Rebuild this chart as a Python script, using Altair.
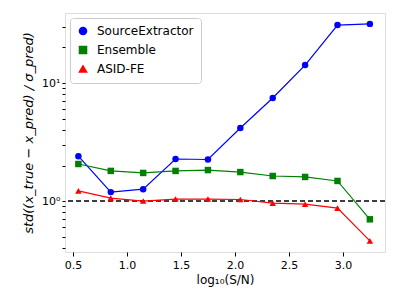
import altair as alt
import pandas as pd

x_vals = [0.55, 0.85, 1.15, 1.45, 1.75, 2.05, 2.35, 2.65, 2.95, 3.25]
source_extractor = [2.40, 1.19, 1.26, 2.27, 2.25, 4.16, 7.46, 14.2, 31.0, 31.7]
ensemble = [2.06, 1.80, 1.73, 1.80, 1.83, 1.76, 1.63, 1.60, 1.48, 0.70]
asid_fe = [1.22, 1.06, 1.00, 1.04, 1.04, 1.03, 0.96, 0.94, 0.87, 0.46]

series_names = ["SourceExtractor", "Ensemble", "ASID-FE"]
series_colors = ["#0000ff", "#008000", "#ff0000"]
series_shapes = ["circle", "square", "triangle-up"]

rows = []
for name, vals in zip(series_names, [source_extractor, ensemble, asid_fe]):
    for xv, yv in zip(x_vals, vals):
        rows.append({"x": xv, "y": yv, "series": name})
df = pd.DataFrame(rows)

y_ticks = [0.4, 0.5, 0.6, 0.7, 0.8, 0.9, 1, 2, 3, 4, 5, 6, 7, 8, 9, 10, 20, 30]
x_ticks = [0.5, 1.0, 1.5, 2.0, 2.5, 3.0]

font = "DejaVu Sans"

xenc = alt.X("x:Q",
             scale=alt.Scale(domain=[0.426, 3.39], nice=False, zero=False),
             axis=alt.Axis(values=x_ticks, format=".1f", title="log₁₀(S/N)",
                           grid=False, tickSize=4, labelFontSize=11, titleFontSize=12,
                           labelColor="#000", titleColor="#000", domain=False,
                           tickColor="#000", titleFontWeight="normal", labelPadding=3,
                           titlePadding=4))
yenc = alt.Y("y:Q",
             scale=alt.Scale(type="log", domain=[0.37, 39.2], nice=False),
             axis=alt.Axis(values=y_ticks,
                           labelExpr="datum.value == 1 ? '10⁰' : (datum.value == 10 ? '10¹' : '')",
                           title="std((x_true − x_pred) / σ_pred)",
                           grid=False, tickSize=3, labelFontSize=11, titleFontSize=13,
                           titleFontStyle="italic", titleFontWeight="normal",
                           labelColor="#000", titleColor="#000", domain=False,
                           tickColor="#000", titlePadding=6))

color = alt.Color("series:N",
                  scale=alt.Scale(domain=series_names, range=series_colors),
                  legend=alt.Legend(title=None, orient="top-left", offset=5,
                                    labelFontSize=12, labelFont=font,
                                    strokeColor="#cccccc", padding=7, cornerRadius=3,
                                    fillColor="white", symbolSize=50,
                                    rowPadding=5, labelColor="#000", labelOffset=8))
shape = alt.Shape("series:N",
                  scale=alt.Scale(domain=series_names, range=series_shapes),
                  legend=alt.Legend(title=None, orient="top-left"))

lines = alt.Chart(df).mark_line(strokeWidth=1.2).encode(
    x=xenc, y=yenc, color=color, detail="series:N")
points = alt.Chart(df).mark_point(filled=True, size=42, opacity=1).encode(
    x=xenc, y=yenc, color=color, shape=shape)

ref_df = pd.DataFrame({"y": [1.0]})
ref = alt.Chart(ref_df).mark_rule(color="black", strokeDash=[5, 3], strokeWidth=1.4).encode(
    y=alt.Y("y:Q", scale=alt.Scale(type="log", domain=[0.37, 39.2], nice=False)))

chart = alt.layer(ref, lines, points).properties(
    width=320, height=239,
    autosize=alt.AutoSizeParams(type="none"),
    padding={"left": 57, "top": 5, "right": 5, "bottom": 40},
).configure_view(stroke="#333333", strokeWidth=1).configure(font=font)

chart.save("out.html", embed_options={"renderer": "svg", "actions": False})
